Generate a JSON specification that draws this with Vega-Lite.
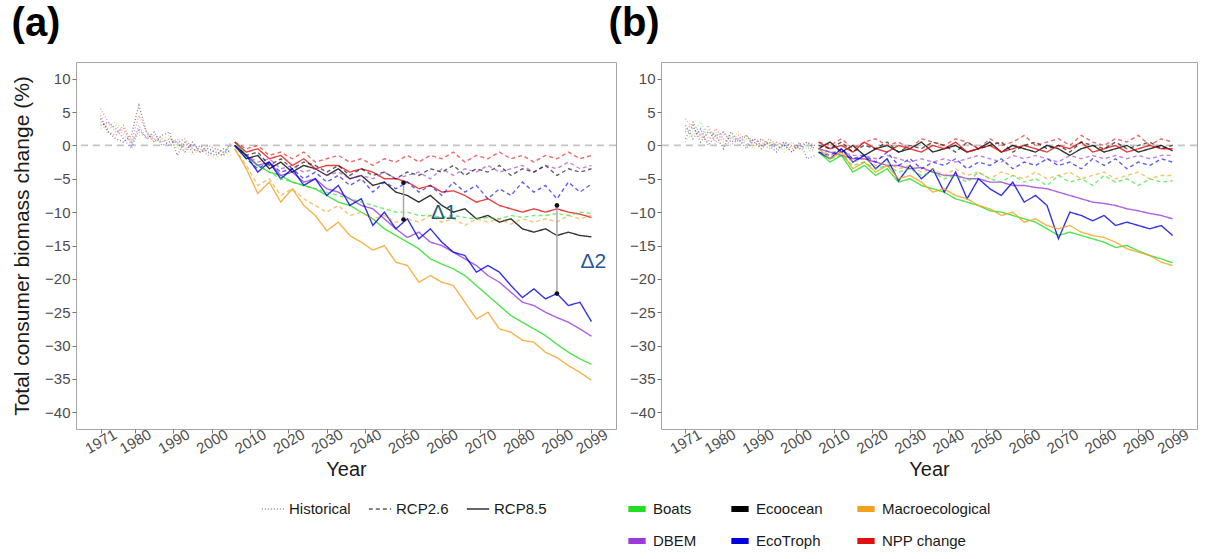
{
  "$schema": "https://vega.github.io/schema/vega-lite/v6.json",
  "background": "white",
  "padding": {"left": 11, "top": 3, "right": 4, "bottom": 4},
  "config": {
    "font": "Liberation Sans, Arial, sans-serif",
    "view": {"stroke": "#a6a6a6", "strokeWidth": 1},
    "axis": {"grid": false, "domain": false, "tickColor": "#777777", "tickSize": 4, "labelFontSize": 15, "labelColor": "#4d4d4d", "titleFontWeight": "normal", "titleColor": "#1a1a1a", "labelOverlap": false, "labelFlush": false}
  },
  "datasets": {
    "main": [
      {"p":"a","s":"Historical","x":1971,"B":3.5,"D":5.5,"E":4.0,"T":3.0,"M":2.5,"N":4.5},
      {"p":"a","s":"Historical","x":1973,"B":2.5,"D":3.5,"E":2.0,"T":3.5,"M":3.0,"N":2.0},
      {"p":"a","s":"Historical","x":1975,"B":3.0,"D":2.0,"E":1.0,"T":2.5,"M":3.5,"N":1.5},
      {"p":"a","s":"Historical","x":1977,"B":1.5,"D":2.5,"E":0.5,"T":1.0,"M":2.0,"N":3.0},
      {"p":"a","s":"Historical","x":1979,"B":0.5,"D":0.0,"E":1.5,"T":-0.5,"M":1.0,"N":0.5},
      {"p":"a","s":"Historical","x":1981,"B":2.0,"D":3.0,"E":6.0,"T":2.5,"M":1.5,"N":4.5},
      {"p":"a","s":"Historical","x":1983,"B":1.5,"D":1.0,"E":2.0,"T":1.0,"M":1.5,"N":2.0},
      {"p":"a","s":"Historical","x":1985,"B":1.0,"D":1.5,"E":0.5,"T":2.0,"M":0.5,"N":1.0},
      {"p":"a","s":"Historical","x":1987,"B":0.5,"D":1.0,"E":1.5,"T":0.0,"M":1.0,"N":0.5},
      {"p":"a","s":"Historical","x":1989,"B":1.0,"D":0.0,"E":2.0,"T":0.5,"M":1.5,"N":1.0},
      {"p":"a","s":"Historical","x":1991,"B":0.0,"D":1.0,"E":-1.5,"T":0.5,"M":-0.5,"N":0.5},
      {"p":"a","s":"Historical","x":1993,"B":0.5,"D":-0.5,"E":0.5,"T":-1.0,"M":0.0,"N":1.0},
      {"p":"a","s":"Historical","x":1995,"B":-0.5,"D":0.0,"E":-1.0,"T":0.5,"M":-1.5,"N":-0.5},
      {"p":"a","s":"Historical","x":1997,"B":-1.0,"D":-0.5,"E":0.0,"T":-1.0,"M":-0.5,"N":-1.0},
      {"p":"a","s":"Historical","x":1999,"B":-0.5,"D":-1.5,"E":-1.0,"T":-0.5,"M":-1.0,"N":0.0},
      {"p":"a","s":"Historical","x":2001,"B":-1.0,"D":-0.5,"E":-1.5,"T":-1.0,"M":-2.0,"N":-0.5},
      {"p":"a","s":"Historical","x":2003,"B":-1.5,"D":-1.0,"E":-0.5,"T":-1.5,"M":-1.0,"N":-1.0},
      {"p":"a","s":"Historical","x":2005,"B":-0.5,"D":-1.0,"E":-1.0,"T":0.5,"M":-1.5,"N":0.0},

      {"p":"a","s":"RCP8.5","x":2006,"B":0.5,"D":0,"E":0,"T":0,"M":-0.5,"N":0.5},
      {"p":"a","s":"RCP8.5","x":2009,"B":-1.5,"D":-1.5,"E":-2,"T":-1.5,"M":-3.5,"N":-1},
      {"p":"a","s":"RCP8.5","x":2012,"B":-3,"D":-3,"E":-1.5,"T":-4,"M":-7.2,"N":-0.5},
      {"p":"a","s":"RCP8.5","x":2015,"B":-4,"D":-2.5,"E":-3.5,"T":-2.5,"M":-5.5,"N":-2},
      {"p":"a","s":"RCP8.5","x":2018,"B":-4.5,"D":-4.5,"E":-2.5,"T":-5,"M":-8.5,"N":-1.5},
      {"p":"a","s":"RCP8.5","x":2021,"B":-5.5,"D":-4,"E":-4,"T":-3.5,"M":-6.5,"N":-3},
      {"p":"a","s":"RCP8.5","x":2024,"B":-6,"D":-5.5,"E":-3,"T":-6,"M":-9,"N":-2},
      {"p":"a","s":"RCP8.5","x":2027,"B":-6.5,"D":-5,"E":-3.5,"T":-5,"M":-10.5,"N":-3.5},
      {"p":"a","s":"RCP8.5","x":2030,"B":-7.5,"D":-6.5,"E":-4.5,"T":-7.5,"M":-12.8,"N":-3},
      {"p":"a","s":"RCP8.5","x":2033,"B":-8.5,"D":-7,"E":-3.5,"T":-6,"M":-11.5,"N":-3},
      {"p":"a","s":"RCP8.5","x":2036,"B":-9,"D":-8,"E":-5,"T":-9,"M":-13.5,"N":-4},
      {"p":"a","s":"RCP8.5","x":2039,"B":-10,"D":-9,"E":-4.5,"T":-8,"M":-14.5,"N":-3.5},
      {"p":"a","s":"RCP8.5","x":2042,"B":-11,"D":-9.5,"E":-6,"T":-12,"M":-15.7,"N":-4},
      {"p":"a","s":"RCP8.5","x":2045,"B":-12.5,"D":-11,"E":-5.5,"T":-10,"M":-15,"N":-5},
      {"p":"a","s":"RCP8.5","x":2048,"B":-13.5,"D":-12.5,"E":-7,"T":-12.5,"M":-17.5,"N":-5},
      {"p":"a","s":"RCP8.5","x":2051,"B":-14.5,"D":-13.8,"E":-7.5,"T":-11,"M":-18,"N":-5.5},
      {"p":"a","s":"RCP8.5","x":2054,"B":-15.5,"D":-13,"E":-8.5,"T":-14,"M":-20.5,"N":-6.5},
      {"p":"a","s":"RCP8.5","x":2057,"B":-17,"D":-14.5,"E":-7.5,"T":-12.5,"M":-19.5,"N":-6},
      {"p":"a","s":"RCP8.5","x":2060,"B":-17.8,"D":-15,"E":-9,"T":-14.5,"M":-20.5,"N":-7},
      {"p":"a","s":"RCP8.5","x":2063,"B":-18.5,"D":-16,"E":-10,"T":-16,"M":-21,"N":-6.8},
      {"p":"a","s":"RCP8.5","x":2066,"B":-19.5,"D":-17,"E":-9.5,"T":-16.5,"M":-23.5,"N":-7.5},
      {"p":"a","s":"RCP8.5","x":2069,"B":-21,"D":-18,"E":-11,"T":-19,"M":-26,"N":-8.5},
      {"p":"a","s":"RCP8.5","x":2072,"B":-22.5,"D":-19.5,"E":-10.5,"T":-18,"M":-25,"N":-8},
      {"p":"a","s":"RCP8.5","x":2075,"B":-24,"D":-20.5,"E":-11.5,"T":-19,"M":-27.5,"N":-9},
      {"p":"a","s":"RCP8.5","x":2078,"B":-25.5,"D":-22,"E":-11,"T":-21,"M":-28,"N":-9.5},
      {"p":"a","s":"RCP8.5","x":2081,"B":-26.5,"D":-23.5,"E":-12.5,"T":-22.8,"M":-29.2,"N":-10},
      {"p":"a","s":"RCP8.5","x":2084,"B":-27.5,"D":-24,"E":-13,"T":-21.5,"M":-29.5,"N":-9.5},
      {"p":"a","s":"RCP8.5","x":2087,"B":-28.5,"D":-25,"E":-12.5,"T":-23,"M":-31,"N":-10},
      {"p":"a","s":"RCP8.5","x":2090,"B":-29.8,"D":-25.8,"E":-13.5,"T":-22.2,"M":-31.8,"N":-9.5},
      {"p":"a","s":"RCP8.5","x":2093,"B":-31,"D":-26.5,"E":-13,"T":-24,"M":-33,"N":-10},
      {"p":"a","s":"RCP8.5","x":2096,"B":-32,"D":-27.5,"E":-13.5,"T":-23.5,"M":-34,"N":-10.3},
      {"p":"a","s":"RCP8.5","x":2099,"B":-32.8,"D":-28.6,"E":-13.7,"T":-26.4,"M":-35.2,"N":-10.8},

      {"p":"a","s":"RCP2.6","x":2006,"B":0,"D":0,"E":0,"T":0,"M":-0.5,"N":0.5},
      {"p":"a","s":"RCP2.6","x":2009,"B":-2,"D":-1.5,"E":-1.5,"T":-2,"M":-3,"N":-0.5},
      {"p":"a","s":"RCP2.6","x":2012,"B":-3,"D":-2.5,"E":-1,"T":-3.5,"M":-6,"N":0},
      {"p":"a","s":"RCP2.6","x":2015,"B":-4,"D":-2,"E":-3,"T":-2.5,"M":-5,"N":-1.5},
      {"p":"a","s":"RCP2.6","x":2018,"B":-5,"D":-3.5,"E":-2,"T":-4,"M":-7.5,"N":-1},
      {"p":"a","s":"RCP2.6","x":2021,"B":-5.5,"D":-3,"E":-3.5,"T":-3.5,"M":-6.5,"N":-2},
      {"p":"a","s":"RCP2.6","x":2024,"B":-6,"D":-4,"E":-2.5,"T":-5,"M":-8,"N":-1},
      {"p":"a","s":"RCP2.6","x":2027,"B":-6.5,"D":-3.5,"E":-3,"T":-4,"M":-9,"N":-2.5},
      {"p":"a","s":"RCP2.6","x":2030,"B":-7,"D":-4.5,"E":-4,"T":-5.5,"M":-10,"N":-2},
      {"p":"a","s":"RCP2.6","x":2033,"B":-7.5,"D":-4,"E":-3,"T":-4.5,"M":-9,"N":-1.5},
      {"p":"a","s":"RCP2.6","x":2036,"B":-8,"D":-5,"E":-4.5,"T":-6,"M":-10.5,"N":-2.5},
      {"p":"a","s":"RCP2.6","x":2039,"B":-8.5,"D":-4.5,"E":-3.5,"T":-5,"M":-10,"N":-2},
      {"p":"a","s":"RCP2.6","x":2042,"B":-9,"D":-5,"E":-4.5,"T":-7,"M":-11,"N":-3},
      {"p":"a","s":"RCP2.6","x":2045,"B":-9.5,"D":-4,"E":-4,"T":-5.5,"M":-10.5,"N":-2},
      {"p":"a","s":"RCP2.6","x":2048,"B":-10,"D":-5,"E":-5,"T":-6.5,"M":-11.5,"N":-2.5},
      {"p":"a","s":"RCP2.6","x":2051,"B":-10,"D":-4.5,"E":-4,"T":-5.5,"M":-11,"N":-1.5},
      {"p":"a","s":"RCP2.6","x":2054,"B":-10.5,"D":-4,"E":-4.5,"T":-7,"M":-11.5,"N":-2.5},
      {"p":"a","s":"RCP2.6","x":2057,"B":-10.5,"D":-5,"E":-3.5,"T":-6,"M":-10.5,"N":-1.5},
      {"p":"a","s":"RCP2.6","x":2060,"B":-10.8,"D":-3.5,"E":-4,"T":-7.5,"M":-11.5,"N":-2},
      {"p":"a","s":"RCP2.6","x":2063,"B":-10.5,"D":-4.5,"E":-3,"T":-5.5,"M":-11,"N":-1},
      {"p":"a","s":"RCP2.6","x":2066,"B":-10.8,"D":-3.5,"E":-4.5,"T":-7,"M":-12,"N":-2.5},
      {"p":"a","s":"RCP2.6","x":2069,"B":-11,"D":-4,"E":-3.5,"T":-6,"M":-11,"N":-1.5},
      {"p":"a","s":"RCP2.6","x":2072,"B":-10.8,"D":-3,"E":-4,"T":-8,"M":-11.5,"N":-2},
      {"p":"a","s":"RCP2.6","x":2075,"B":-11,"D":-4,"E":-3,"T":-6.5,"M":-11,"N":-1},
      {"p":"a","s":"RCP2.6","x":2078,"B":-10.5,"D":-3.5,"E":-4.5,"T":-7.5,"M":-11.8,"N":-2},
      {"p":"a","s":"RCP2.6","x":2081,"B":-10.8,"D":-3,"E":-3.5,"T":-5.5,"M":-11,"N":-1.5},
      {"p":"a","s":"RCP2.6","x":2084,"B":-10.5,"D":-4,"E":-4,"T":-7,"M":-11.5,"N":-2.5},
      {"p":"a","s":"RCP2.6","x":2087,"B":-10.5,"D":-3,"E":-3,"T":-6,"M":-11,"N":-1.5},
      {"p":"a","s":"RCP2.6","x":2090,"B":-10.2,"D":-3.5,"E":-4.5,"T":-8,"M":-11.5,"N":-2},
      {"p":"a","s":"RCP2.6","x":2093,"B":-10.5,"D":-2.5,"E":-3.5,"T":-5.5,"M":-10.5,"N":-1},
      {"p":"a","s":"RCP2.6","x":2096,"B":-10,"D":-3.5,"E":-4,"T":-7,"M":-11,"N":-2},
      {"p":"a","s":"RCP2.6","x":2099,"B":-10.2,"D":-3,"E":-3.5,"T":-5.8,"M":-10.5,"N":-1.5},

      {"p":"b","s":"Historical","x":1971,"B":2.5,"D":4.0,"E":1.0,"T":3.0,"M":0.5,"N":2.0},
      {"p":"b","s":"Historical","x":1973,"B":1.5,"D":2.5,"E":3.0,"T":1.0,"M":2.0,"N":3.5},
      {"p":"b","s":"Historical","x":1975,"B":3.5,"D":1.5,"E":0.5,"T":2.5,"M":1.0,"N":1.5},
      {"p":"b","s":"Historical","x":1977,"B":1.0,"D":3.0,"E":2.0,"T":0.0,"M":2.5,"N":0.5},
      {"p":"b","s":"Historical","x":1979,"B":2.0,"D":0.5,"E":1.5,"T":1.5,"M":0.0,"N":2.5},
      {"p":"b","s":"Historical","x":1981,"B":0.5,"D":2.0,"E":-0.5,"T":2.0,"M":1.5,"N":1.0},
      {"p":"b","s":"Historical","x":1983,"B":1.5,"D":1.0,"E":2.0,"T":0.5,"M":1.0,"N":0.0},
      {"p":"b","s":"Historical","x":1985,"B":0.0,"D":1.5,"E":0.5,"T":1.0,"M":2.0,"N":1.0},
      {"p":"b","s":"Historical","x":1987,"B":1.0,"D":0.0,"E":1.5,"T":-0.5,"M":0.5,"N":1.5},
      {"p":"b","s":"Historical","x":1989,"B":0.5,"D":1.0,"E":0.0,"T":1.0,"M":-0.5,"N":0.5},
      {"p":"b","s":"Historical","x":1991,"B":-0.5,"D":0.5,"E":1.0,"T":0.0,"M":1.0,"N":-0.5},
      {"p":"b","s":"Historical","x":1993,"B":0.5,"D":-0.5,"E":0.0,"T":0.5,"M":0.0,"N":1.0},
      {"p":"b","s":"Historical","x":1995,"B":0.0,"D":0.5,"E":-1.0,"T":-0.5,"M":0.5,"N":0.0},
      {"p":"b","s":"Historical","x":1997,"B":-0.5,"D":0.0,"E":0.5,"T":0.0,"M":-1.0,"N":0.5},
      {"p":"b","s":"Historical","x":1999,"B":0.5,"D":-1.0,"E":0.0,"T":-1.0,"M":0.0,"N":-0.5},
      {"p":"b","s":"Historical","x":2001,"B":-0.5,"D":0.0,"E":-0.5,"T":0.5,"M":-0.5,"N":0.0},
      {"p":"b","s":"Historical","x":2003,"B":0.0,"D":-0.5,"E":0.5,"T":-2.0,"M":-1.0,"N":0.5},
      {"p":"b","s":"Historical","x":2005,"B":-1.0,"D":0.0,"E":-0.5,"T":-1.5,"M":-0.5,"N":0.0},

      {"p":"b","s":"RCP8.5","x":2006,"B":-1,"D":-0.5,"E":-0.5,"T":-1,"M":-0.5,"N":0.5},
      {"p":"b","s":"RCP8.5","x":2009,"B":-2.5,"D":-1,"E":0.5,"T":-2,"M":-2,"N":-0.5},
      {"p":"b","s":"RCP8.5","x":2012,"B":-1.5,"D":-1.5,"E":-1,"T":-0.5,"M":-1,"N":0},
      {"p":"b","s":"RCP8.5","x":2015,"B":-4,"D":-2,"E":0,"T":-2.5,"M":-3.5,"N":-1},
      {"p":"b","s":"RCP8.5","x":2018,"B":-3,"D":-2,"E":-1.5,"T":-1.5,"M":-2.5,"N":0.5},
      {"p":"b","s":"RCP8.5","x":2021,"B":-4.5,"D":-2.5,"E":-0.5,"T":-3.5,"M":-4,"N":-0.5},
      {"p":"b","s":"RCP8.5","x":2024,"B":-3.5,"D":-3,"E":0,"T":-2,"M":-3,"N":-1},
      {"p":"b","s":"RCP8.5","x":2027,"B":-5.5,"D":-3,"E":-1,"T":-5.3,"M":-5,"N":0},
      {"p":"b","s":"RCP8.5","x":2030,"B":-5,"D":-3.5,"E":-0.5,"T":-3,"M":-4.5,"N":-0.5},
      {"p":"b","s":"RCP8.5","x":2033,"B":-6,"D":-3.3,"E":0.5,"T":-5,"M":-5.5,"N":-1},
      {"p":"b","s":"RCP8.5","x":2036,"B":-6.5,"D":-4,"E":-1,"T":-3.5,"M":-7,"N":0},
      {"p":"b","s":"RCP8.5","x":2039,"B":-7,"D":-4.5,"E":-0.5,"T":-7,"M":-6.5,"N":-0.5},
      {"p":"b","s":"RCP8.5","x":2042,"B":-8,"D":-4.5,"E":0,"T":-4,"M":-7.5,"N":0.5},
      {"p":"b","s":"RCP8.5","x":2045,"B":-8.5,"D":-5,"E":-1,"T":-8,"M":-8,"N":-1},
      {"p":"b","s":"RCP8.5","x":2048,"B":-9,"D":-5,"E":-0.5,"T":-5,"M":-9,"N":-0.5},
      {"p":"b","s":"RCP8.5","x":2051,"B":-9.8,"D":-5.5,"E":0.5,"T":-6.5,"M":-9.5,"N":0},
      {"p":"b","s":"RCP8.5","x":2054,"B":-10,"D":-5.5,"E":-1,"T":-7.5,"M":-10.5,"N":-1},
      {"p":"b","s":"RCP8.5","x":2057,"B":-10.5,"D":-6,"E":0,"T":-5.5,"M":-10,"N":-0.5},
      {"p":"b","s":"RCP8.5","x":2060,"B":-11,"D":-6,"E":-0.5,"T":-8.5,"M":-11.5,"N":0},
      {"p":"b","s":"RCP8.5","x":2063,"B":-11.5,"D":-6.3,"E":-1,"T":-7.5,"M":-11,"N":-0.5},
      {"p":"b","s":"RCP8.5","x":2066,"B":-12.5,"D":-6.5,"E":0,"T":-9,"M":-12,"N":-1},
      {"p":"b","s":"RCP8.5","x":2069,"B":-13.5,"D":-7,"E":-0.5,"T":-14,"M":-12.5,"N":0},
      {"p":"b","s":"RCP8.5","x":2072,"B":-13,"D":-7.5,"E":-1.5,"T":-10,"M":-12,"N":-0.5},
      {"p":"b","s":"RCP8.5","x":2075,"B":-13.5,"D":-8,"E":-0.5,"T":-10.5,"M":-13,"N":0.5},
      {"p":"b","s":"RCP8.5","x":2078,"B":-14,"D":-8.5,"E":0,"T":-11.3,"M":-13.5,"N":-1},
      {"p":"b","s":"RCP8.5","x":2081,"B":-14.5,"D":-8.7,"E":-1,"T":-10.5,"M":-13.8,"N":-0.5},
      {"p":"b","s":"RCP8.5","x":2084,"B":-15.3,"D":-9,"E":-0.5,"T":-12,"M":-14.5,"N":0},
      {"p":"b","s":"RCP8.5","x":2087,"B":-15,"D":-9.5,"E":0,"T":-11.5,"M":-15.5,"N":-1},
      {"p":"b","s":"RCP8.5","x":2090,"B":-15.8,"D":-9.8,"E":-1,"T":-12,"M":-16,"N":-0.5},
      {"p":"b","s":"RCP8.5","x":2093,"B":-16.5,"D":-10.2,"E":-0.5,"T":-12.5,"M":-16.5,"N":0},
      {"p":"b","s":"RCP8.5","x":2096,"B":-17,"D":-10.5,"E":0,"T":-12,"M":-17.5,"N":-0.5},
      {"p":"b","s":"RCP8.5","x":2099,"B":-17.6,"D":-11,"E":-0.8,"T":-13.5,"M":-18,"N":-0.5},

      {"p":"b","s":"RCP2.6","x":2006,"B":-1,"D":-0.5,"E":0,"T":-1,"M":-0.5,"N":0.5},
      {"p":"b","s":"RCP2.6","x":2009,"B":-2,"D":-1,"E":-0.5,"T":-1.5,"M":-1.5,"N":0},
      {"p":"b","s":"RCP2.6","x":2012,"B":-1.5,"D":-1,"E":0.5,"T":-0.5,"M":-1,"N":1},
      {"p":"b","s":"RCP2.6","x":2015,"B":-3,"D":-1.5,"E":-1,"T":-2,"M":-2.5,"N":-0.5},
      {"p":"b","s":"RCP2.6","x":2018,"B":-2.5,"D":-1.5,"E":0,"T":-1.5,"M":-2,"N":0.5},
      {"p":"b","s":"RCP2.6","x":2021,"B":-3.5,"D":-2,"E":-0.5,"T":-2.5,"M":-3,"N":1},
      {"p":"b","s":"RCP2.6","x":2024,"B":-3,"D":-1.5,"E":0.5,"T":-1,"M":-2.5,"N":0},
      {"p":"b","s":"RCP2.6","x":2027,"B":-4,"D":-2,"E":-1,"T":-3,"M":-3.5,"N":0.5},
      {"p":"b","s":"RCP2.6","x":2030,"B":-3.5,"D":-2.5,"E":0,"T":-2,"M":-3,"N":-0.5},
      {"p":"b","s":"RCP2.6","x":2033,"B":-4.5,"D":-2,"E":-0.5,"T":-3.5,"M":-4,"N":1},
      {"p":"b","s":"RCP2.6","x":2036,"B":-4,"D":-2.5,"E":0.5,"T":-2.5,"M":-3.5,"N":0.5},
      {"p":"b","s":"RCP2.6","x":2039,"B":-5,"D":-2,"E":0,"T":-3,"M":-4.5,"N":0},
      {"p":"b","s":"RCP2.6","x":2042,"B":-4.5,"D":-2.5,"E":-1,"T":-2,"M":-3.5,"N":1},
      {"p":"b","s":"RCP2.6","x":2045,"B":-5.5,"D":-2,"E":0.5,"T":-3.5,"M":-4.5,"N":0.5},
      {"p":"b","s":"RCP2.6","x":2048,"B":-4,"D":-1.5,"E":-0.5,"T":-2.5,"M":-4,"N":-0.5},
      {"p":"b","s":"RCP2.6","x":2051,"B":-5,"D":-2,"E":0,"T":-3,"M":-5,"N":1},
      {"p":"b","s":"RCP2.6","x":2054,"B":-5.5,"D":-2.5,"E":0.5,"T":-2,"M":-4,"N":0},
      {"p":"b","s":"RCP2.6","x":2057,"B":-4.5,"D":-1.5,"E":-1,"T":-3.5,"M":-4.5,"N":0.5},
      {"p":"b","s":"RCP2.6","x":2060,"B":-5.5,"D":-2,"E":0,"T":-2.5,"M":-5,"N":1.5},
      {"p":"b","s":"RCP2.6","x":2063,"B":-5,"D":-1.5,"E":0.5,"T":-3,"M":-4,"N":0},
      {"p":"b","s":"RCP2.6","x":2066,"B":-6,"D":-2,"E":-0.5,"T":-2,"M":-5,"N":0.5},
      {"p":"b","s":"RCP2.6","x":2069,"B":-4.5,"D":-2.5,"E":0,"T":-3,"M":-4.5,"N":1},
      {"p":"b","s":"RCP2.6","x":2072,"B":-5.5,"D":-1.5,"E":-1,"T":-2.5,"M":-4,"N":0},
      {"p":"b","s":"RCP2.6","x":2075,"B":-5,"D":-2,"E":0.5,"T":-3.5,"M":-5,"N":1.5},
      {"p":"b","s":"RCP2.6","x":2078,"B":-6,"D":-1.5,"E":0,"T":-2,"M":-4.5,"N":0.5},
      {"p":"b","s":"RCP2.6","x":2081,"B":-4.5,"D":-2,"E":-0.5,"T":-3,"M":-4,"N":0},
      {"p":"b","s":"RCP2.6","x":2084,"B":-5.5,"D":-1.5,"E":0.5,"T":-2,"M":-5,"N":1},
      {"p":"b","s":"RCP2.6","x":2087,"B":-5,"D":-2,"E":-0.5,"T":-3.5,"M":-4.5,"N":0.5},
      {"p":"b","s":"RCP2.6","x":2090,"B":-6,"D":-1.5,"E":0,"T":-2.5,"M":-4,"N":1.5},
      {"p":"b","s":"RCP2.6","x":2093,"B":-5,"D":-2,"E":0.5,"T":-3,"M":-5,"N":0},
      {"p":"b","s":"RCP2.6","x":2096,"B":-5.5,"D":-1.5,"E":-0.5,"T":-2,"M":-4.5,"N":1},
      {"p":"b","s":"RCP2.6","x":2099,"B":-5.3,"D":-1.5,"E":0,"T":-2.5,"M":-4.5,"N":0.5}
    ],
    "gaps": [
      {"x": 2050, "y": -5.6, "y2": -11.1},
      {"x": 2090, "y": -9.0, "y2": -22.2}
    ],
    "ends": [
      {"x": 2050, "y": -5.6},
      {"x": 2050, "y": -11.1},
      {"x": 2090, "y": -9.0},
      {"x": 2090, "y": -22.2}
    ],
    "labels": [
      {"t": "Δ1", "x": 2060.5, "y": -10.2},
      {"t": "Δ2", "x": 2099.5, "y": -17.5}
    ]
  },
  "bounds": "flush",
  "spacing": 45,
  "hconcat": [
    {
      "width": 540,
      "height": 367,
      "title": {"text": "(a)", "anchor": "start", "frame": "bounds", "fontSize": 40, "fontWeight": "bold", "font": "Liberation Sans", "color": "#000000", "offset": 18},
      "layer": [
        {
          "data": {"values": [{}]},
          "mark": {"type": "rule", "strokeDash": [7, 5], "color": "#c4c4c4", "strokeWidth": 1.6},
          "encoding": {"y": {"datum": 0, "type": "quantitative"}}
        },
        {
          "data": {"name": "main"},
          "transform": [{"filter": "datum.p === 'a'"}, {"fold": ["B", "D", "E", "T", "M", "N"], "as": ["m", "v"]}],
          "mark": {"type": "line", "strokeWidth": 1.4},
          "encoding": {
            "x": {"field": "x", "type": "quantitative", "scale": {"domain": [1964.6, 2105.4], "nice": false, "zero": false},
                  "axis": {"values": [1971, 1980, 1990, 2000, 2010, 2020, 2030, 2040, 2050, 2060, 2070, 2080, 2090, 2099], "format": "d", "labelAngle": -30, "labelAlign": "center", "labelBaseline": "middle", "labelPadding": 8, "labelOverlap": false, "title": "Year", "titleFontSize": 20, "titlePadding": 3}},
            "y": {"field": "v", "type": "quantitative", "scale": {"domain": [-42.5, 12.5], "nice": false, "zero": false},
                  "axis": {"values": [10, 5, 0, -5, -10, -15, -20, -25, -30, -35, -40], "tickCount": 11, "labelOverlap": false, "title": "Total consumer biomass change (%)", "titleFontSize": 21, "titlePadding": 12, "labelPadding": 2}},
            "color": {"field": "m", "type": "nominal",
                      "scale": {"domain": ["B", "D", "E", "T", "M", "N"], "range": ["#22dd22", "#9a3ad8", "#000000", "#0000e0", "#f2a11f", "#e01010"]},
                      "legend": {"title": null, "orient": "none", "legendX": 549, "legendY": 435, "columns": 3, "symbolType": "stroke", "symbolStrokeWidth": 6, "symbolSize": 300, "labelFontSize": 15, "labelColor": "#1a1a1a", "rowPadding": 8, "columnPadding": 22, "symbolOpacity": 1,
                                 "labelExpr": "datum.label == 'B' ? 'Boats' : datum.label == 'D' ? 'DBEM' : datum.label == 'E' ? 'Ecoocean' : datum.label == 'T' ? 'EcoTroph' : datum.label == 'M' ? 'Macroecological' : 'NPP change'"}},
            "strokeDash": {"field": "s", "type": "nominal",
                           "scale": {"domain": ["Historical", "RCP2.6", "RCP8.5"], "range": [[1, 2], [4, 3], [1, 0]]},
                           "legend": {"title": null, "orient": "none", "legendX": 185, "legendY": 435, "direction": "horizontal", "symbolType": "stroke", "symbolStrokeColor": "#000000", "symbolSize": 500, "symbolStrokeWidth": 1.6, "symbolOpacity": 1, "labelFontSize": 15, "labelColor": "#1a1a1a", "columnPadding": 14}},
            "opacity": {"field": "s", "type": "nominal", "scale": {"domain": ["Historical", "RCP2.6", "RCP8.5"], "range": [0.45, 0.8, 0.9]}, "legend": null}
          }
        },
        {
          "data": {"name": "gaps"},
          "mark": {"type": "rule", "color": "#a8a8a8", "strokeWidth": 1.5},
          "encoding": {"x": {"field": "x", "type": "quantitative"}, "y": {"field": "y", "type": "quantitative"}, "y2": {"field": "y2"}}
        },
        {
          "data": {"name": "ends"},
          "mark": {"type": "point", "filled": true, "color": "#111111", "size": 22, "opacity": 1},
          "encoding": {"x": {"field": "x", "type": "quantitative"}, "y": {"field": "y", "type": "quantitative"}}
        },
        {
          "data": {"name": "labels"},
          "transform": [{"filter": "datum.t === 'Δ1'"}],
          "mark": {"type": "text", "fontSize": 21, "color": "#285e78"},
          "encoding": {"x": {"field": "x", "type": "quantitative"}, "y": {"field": "y", "type": "quantitative"}, "text": {"field": "t"}}
        },
        {
          "data": {"name": "labels"},
          "transform": [{"filter": "datum.t === 'Δ2'"}],
          "mark": {"type": "text", "fontSize": 21, "color": "#2b5797"},
          "encoding": {"x": {"field": "x", "type": "quantitative"}, "y": {"field": "y", "type": "quantitative"}, "text": {"field": "t"}}
        }
      ]
    },
    {
      "width": 536,
      "height": 367,
      "title": {"text": "(b)", "anchor": "start", "frame": "bounds", "fontSize": 40, "fontWeight": "bold", "font": "Liberation Sans", "color": "#000000", "offset": 18, "dx": -21},
      "layer": [
        {
          "data": {"values": [{}]},
          "mark": {"type": "rule", "strokeDash": [7, 5], "color": "#c4c4c4", "strokeWidth": 1.6},
          "encoding": {"y": {"datum": 0, "type": "quantitative"}}
        },
        {
          "data": {"name": "main"},
          "transform": [{"filter": "datum.p === 'b'"}, {"fold": ["B", "D", "E", "T", "M", "N"], "as": ["m", "v"]}],
          "mark": {"type": "line", "strokeWidth": 1.4},
          "encoding": {
            "x": {"field": "x", "type": "quantitative", "scale": {"domain": [1964.6, 2105.4], "nice": false, "zero": false},
                  "axis": {"values": [1971, 1980, 1990, 2000, 2010, 2020, 2030, 2040, 2050, 2060, 2070, 2080, 2090, 2099], "format": "d", "labelAngle": -30, "labelAlign": "center", "labelBaseline": "middle", "labelPadding": 8, "labelOverlap": false, "title": "Year", "titleFontSize": 20, "titlePadding": 3}},
            "y": {"field": "v", "type": "quantitative", "scale": {"domain": [-42.5, 12.5], "nice": false, "zero": false},
                  "axis": {"values": [10, 5, 0, -5, -10, -15, -20, -25, -30, -35, -40], "tickCount": 11, "labelOverlap": false, "title": null, "labelPadding": 2}},
            "color": {"field": "m", "type": "nominal",
                      "scale": {"domain": ["B", "D", "E", "T", "M", "N"], "range": ["#22dd22", "#9a3ad8", "#000000", "#0000e0", "#f2a11f", "#e01010"]},
                      "legend": {"title": null, "orient": "none", "legendX": 549, "legendY": 435, "columns": 3, "symbolType": "stroke", "symbolStrokeWidth": 6, "symbolSize": 300, "labelFontSize": 15, "labelColor": "#1a1a1a", "rowPadding": 8, "columnPadding": 22, "symbolOpacity": 1,
                                 "labelExpr": "datum.label == 'B' ? 'Boats' : datum.label == 'D' ? 'DBEM' : datum.label == 'E' ? 'Ecoocean' : datum.label == 'T' ? 'EcoTroph' : datum.label == 'M' ? 'Macroecological' : 'NPP change'"}},
            "strokeDash": {"field": "s", "type": "nominal",
                           "scale": {"domain": ["Historical", "RCP2.6", "RCP8.5"], "range": [[1, 2], [4, 3], [1, 0]]},
                           "legend": {"title": null, "orient": "none", "legendX": 185, "legendY": 435, "direction": "horizontal", "symbolType": "stroke", "symbolStrokeColor": "#000000", "symbolSize": 500, "symbolStrokeWidth": 1.6, "symbolOpacity": 1, "labelFontSize": 15, "labelColor": "#1a1a1a", "columnPadding": 14}},
            "opacity": {"field": "s", "type": "nominal", "scale": {"domain": ["Historical", "RCP2.6", "RCP8.5"], "range": [0.45, 0.8, 0.9]}, "legend": null}
          }
        }
      ]
    }
  ]
}
